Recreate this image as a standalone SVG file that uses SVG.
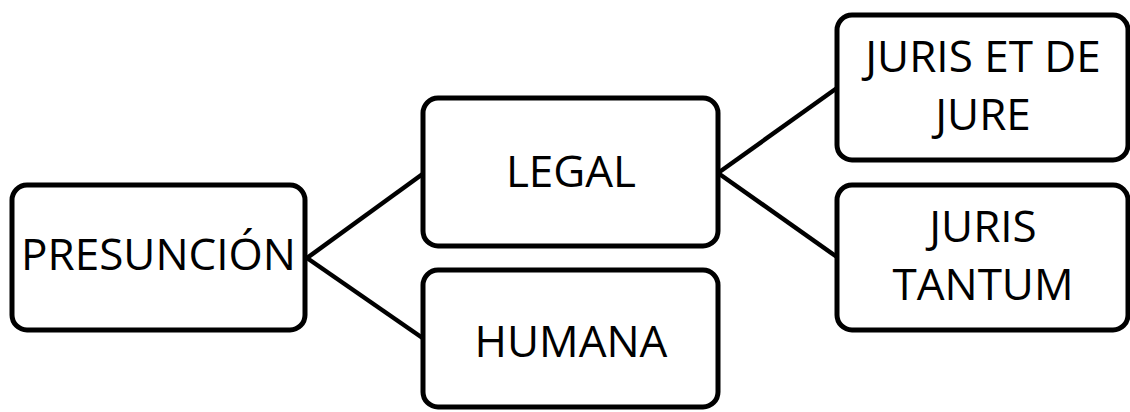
<svg xmlns="http://www.w3.org/2000/svg" width="1130" height="412" viewBox="0 0 1130 412">
<style>
.box{fill:#fff;stroke:#000;stroke-width:5}
.lbl{font-family:"Open Sans","Liberation Sans",sans-serif;font-size:44px;fill:#000;text-anchor:middle}
.con{stroke:#000;stroke-width:4.5;fill:none}
</style>
<rect width="1130" height="412" fill="#fff"/>
<g id="connectors">
<line class="con" x1="307" y1="258" x2="424" y2="173"/>
<line class="con" x1="307" y1="258" x2="424" y2="339"/>
<line class="con" x1="718" y1="173" x2="837" y2="88"/>
<line class="con" x1="718" y1="173" x2="837" y2="257"/>
</g>
<g id="presuncion">
<rect class="box" x="12" y="185" width="293" height="145" rx="15"/>
<text class="lbl" x="158.5" y="270">PRESUNCIÓN</text>
</g>
<g id="legal">
<rect class="box" x="423" y="98" width="295" height="148" rx="15"/>
<text class="lbl" x="571" y="187">LEGAL</text>
</g>
<g id="humana">
<rect class="box" x="423" y="270" width="295" height="137" rx="15"/>
<text class="lbl" x="571" y="357">HUMANA</text>
</g>
<g id="juris-et-de-jure">
<rect class="box" x="837" y="15" width="291" height="145" rx="15"/>
<text class="lbl" x="983" y="72">JURIS ET DE</text>
<text class="lbl" x="983" y="130">JURE</text>
</g>
<g id="juris-tantum">
<rect class="box" x="837" y="185" width="291" height="145" rx="15"/>
<text class="lbl" x="983" y="242">JURIS</text>
<text class="lbl" x="983" y="300">TANTUM</text>
</g>
</svg>
